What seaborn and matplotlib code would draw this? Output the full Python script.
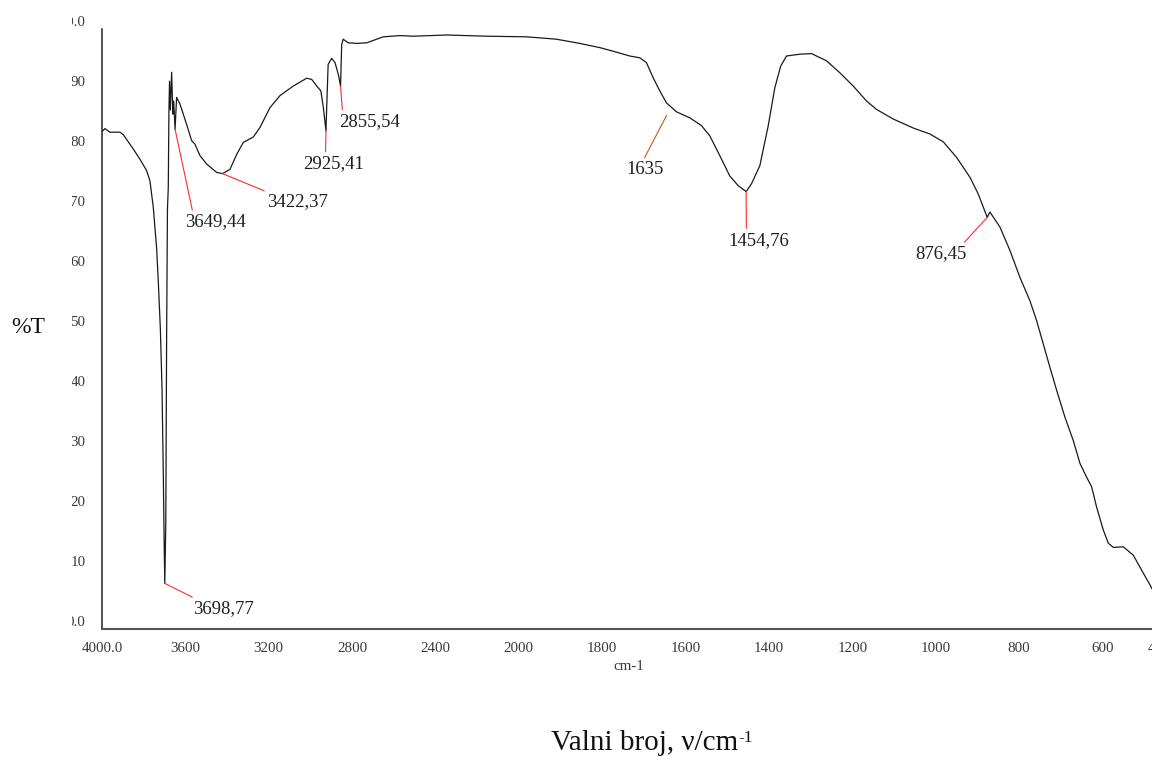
import numpy as np
import pandas as pd
import matplotlib
matplotlib.use('Agg')
import matplotlib.pyplot as plt
from matplotlib.patches import Rectangle
import seaborn as sns

# FTIR spectrum (cm-1, %T)
wavenumber = [4000, 3986, 3962, 3914, 3898, 3850, 3818, 3786, 3770, 3762, 3754, 3746,
              3738, 3730, 3720, 3712, 3706, 3702, 3698.77, 3694, 3690, 3686, 3682, 3679,
              3676, 3672, 3666, 3660, 3656, 3649.44, 3642, 3626, 3594, 3570, 3554, 3530,
              3498, 3450, 3422.37, 3386, 3354, 3322, 3274, 3242, 3194, 3146, 3082, 3018,
              2994, 2970, 2950, 2938, 2925.41, 2922, 2915, 2898, 2882, 2866, 2855.54, 2850,
              2843, 2819, 2778, 2730, 2650, 2570, 2507, 2347, 2155, 1982, 1910, 1854,
              1806, 1774, 1734, 1710, 1694, 1678, 1662, 1646, 1622, 1590, 1562, 1542,
              1518, 1494, 1474, 1454.76, 1442, 1422, 1402, 1386, 1372, 1358, 1326, 1298,
              1262, 1230, 1198, 1166, 1142, 1102, 1054, 1014, 982, 950, 918, 898,
              886, 876.45, 870, 846, 822, 798, 774, 758, 742, 726, 710, 690,
              670, 654, 638, 626, 614, 598, 586, 574, 550, 526, 506, 488, 470, 450]
transmittance = [82.9, 83.4, 82.8, 82.8, 82.4, 80.0, 78.3, 76.4, 74.7, 72.5, 70.3, 67.0,
                 63.5, 58.0, 50.0, 40.0, 26.0, 15.0, 7.6, 17.6, 48.4, 70.0, 73.6, 86.1,
                 91.3, 86.5, 92.8, 85.8, 88.0, 83.3, 88.6, 87.5, 84.1, 81.4, 80.8, 78.9,
                 77.5, 76.1, 75.9, 76.6, 79.1, 81.1, 82.0, 83.6, 86.9, 88.9, 90.5, 91.8,
                 91.6, 90.5, 89.7, 86.9, 83.0, 86.9, 94.1, 95.1, 94.4, 92.4, 90.5, 97.4,
                 98.3, 97.7, 97.6, 97.7, 98.7, 98.9, 98.8, 99.0, 98.8, 98.7, 98.3, 97.6,
                 96.9, 96.3, 95.5, 95.2, 94.4, 91.9, 89.7, 87.7, 86.2, 85.2, 83.9, 82.2,
                 78.9, 75.5, 73.9, 72.9, 74.2, 77.2, 83.8, 90.2, 93.8, 95.5, 95.8, 95.9,
                 94.7, 92.7, 90.5, 88.0, 86.6, 85.0, 83.5, 82.5, 81.2, 78.6, 75.3, 72.5,
                 70.3, 68.6, 69.5, 67.0, 63.1, 58.6, 54.7, 51.4, 47.5, 43.6, 39.8, 35.3,
                 31.4, 27.6, 25.3, 23.7, 20.3, 16.5, 14.3, 13.6, 13.7, 12.3, 9.8, 7.6, 5.3, 3.0]

peak_labels = ['3698,77', '3649,44', '3422,37', '2925,41', '2855,54', '1635', '1454,76', '876,45']
peak_x = [3698.77, 3649.44, 3422.37, 2925.41, 2855.54, 1635, 1454.76, 876.45]
peak_y = [7.6, 83.3, 75.9, 83.0, 90.5, 87.0, 72.9, 68.6]

x_ticks = [4000, 3600, 3200, 2800, 2400, 2000, 1800, 1600, 1400, 1200, 1000, 800, 600, 450]
x_tick_labels = ['4000.0', '3600', '3200', '2800', '2400', '2000', '1800', '1600',
                 '1400', '1200', '1000', '800', '600', '450.0']
y_ticks = [0, 10, 20, 30, 40, 50, 60, 70, 80, 90, 100]
y_tick_labels = ['0.0', '10', '20', '30', '40', '50', '60', '70', '80', '90', '100.0']

# label placement: (dx px, dy px, leader attach point along text, leader colour, gap at peak pt)
label_layout = [(28, -17, 0.10, '#ff2a2a', 0),
                (10, -84, 0.13, '#ff2a2a', 0),
                (45, -19, 0.02, '#ff2a2a', 0),
                (-23, -24, 0.37, '#ff2a2a', 0),
                (-1, -27, 0.05, '#ff2a2a', 0),
                (-45, -54, 0.45, '#c55a11', 6.5),
                (-18, -40, 0.30, '#ff2a2a', 0),
                (-72, -28, 0.90, '#ff2a2a', 0)]


# the instrument axis is compressed 2:1 above 2000 cm-1
def fwd(x):
    x = np.asarray(x, dtype=float)
    return np.where(x >= 2000, x, 2 * x - 2000)


def inv(u):
    u = np.asarray(u, dtype=float)
    return np.where(u >= 2000, u, (u + 2000) / 2)


sns.set_style('white')
plt.rcParams['font.family'] = ['Liberation Serif', 'DejaVu Serif']

spectrum = pd.DataFrame({'wavenumber': wavenumber, 'T': transmittance})

fig = plt.figure(figsize=(11.52, 7.6), dpi=100)
ax = fig.add_axes([102 / 1152, 131 / 760, 1063 / 1152, 600 / 760])

sns.lineplot(data=spectrum, x='wavenumber', y='T', ax=ax, color='#1a1a1a',
             lw=0.9, estimator=None, sort=False)

ax.set_xscale('function', functions=(fwd, inv))
ax.set_xlim(4000, 450)
ax.set_ylim(0, 100)
ax.set_xlabel('')
ax.set_ylabel('')

ax.set_xticks(x_ticks, x_tick_labels)
ax.set_yticks(y_ticks, y_tick_labels)
ax.minorticks_off()
plt.setp(ax.get_yticklabels(), va='bottom')

ax.spines[['top', 'right']].set_visible(False)
ax.spines['left'].set_color('#222222')
ax.spines['left'].set_linewidth(1.1)
ax.spines['bottom'].set_color('#555555')
ax.spines['bottom'].set_linewidth(1.5)
ax.tick_params(axis='x', direction='out', length=4, width=1, color='#555555',
               labelcolor='#3a3a3a', labelsize=10.8, pad=5.5)
ax.tick_params(axis='y', direction='out', length=4, width=1, color='#333333',
               labelcolor='#3a3a3a', labelsize=10.8, pad=7.9)

for label, px, py, (dx, dy, rx, lc, gap) in zip(peak_labels, peak_x, peak_y, label_layout):
    ax.annotate(label, xy=(px, py), xytext=(dx, dy), textcoords='offset pixels',
                ha='left', va='top', fontsize=13.5, color='#1f1f1f',
                arrowprops=dict(arrowstyle='-', color=lc, lw=0.8,
                                shrinkA=0, shrinkB=gap, relpos=(rx, 1.0)))

# the pasted spectrum is cut on its left side
fig.add_artist(Rectangle((0, 0), 71.5 / 1152, 1, transform=fig.transFigure,
                         facecolor='white', edgecolor='none', zorder=5))

fig.text(629 / 1152, 1 - 667 / 760, 'cm-1', ha='center', va='center',
         fontsize=10.8, color='#3a3a3a')
fig.text(28 / 1152, 1 - 327 / 760, '%T', ha='center', va='center',
         fontsize=17, color='#111111', zorder=6)
title = fig.text(645 / 1152, 10 / 760, 'Valni broj, ν/cm', ha='center',
                 va='baseline', fontsize=21, color='#111111')
ax.annotate('-1', xy=(1.0, 1.0), xycoords=title, ha='left', va='top',
            fontsize=12.5, color='#111111')

fig.savefig('out.png', dpi=100)
